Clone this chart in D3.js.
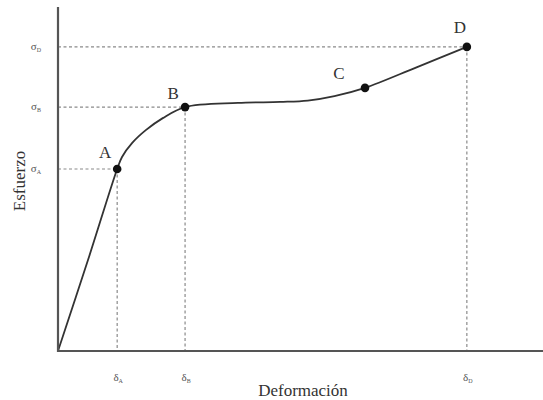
<!DOCTYPE html>
<html>
<head>
<meta charset="utf-8">
<script src="https://cdn.jsdelivr.net/npm/d3@7"></script>
<style>
  body { margin: 0; background: #fff; }
  svg { display: block; font-family: "Liberation Serif", "DejaVu Serif", serif; }
</style>
</head>
<body>
<svg id="chart" width="543" height="400"></svg>
<script>
// curve (arbitrary units, 0-100)
const strain = [0, 6.2, 12.2, 13.2, 15.3, 18.1, 21.6, 26.2, 37.1, 45.8, 51.5, 57.0, 63.3, 73.8, 84.3];
const stress = [0, 26.5, 52.9, 56.4, 60.5, 64.2, 67.7, 70.9, 72.1, 72.4, 72.8, 74.1, 76.5, 82.4, 88.4];

// labelled points
const pointNames = ['A', 'B', 'C', 'D'];
const pointStrain = [12.2, 26.2, 63.3, 84.3];
const pointStress = [52.9, 70.9, 76.5, 88.4];

// which points get dashed guides + axis labels
const guideNames = ['A', 'B', 'D'];
const xTitle = 'Deformación';
const yTitle = 'Esfuerzo';

const svg = d3.select('#chart');
const x = d3.scaleLinear().domain([0, 100]).range([58, 543]);
const y = d3.scaleLinear().domain([0, 100]).range([351, 7]);

const curve = strain.map((d, i) => [d, stress[i]]);
const pts = pointNames.map((n, i) => ({name: n, sx: pointStrain[i], sy: pointStress[i]}));
const guides = pts.filter(p => guideNames.includes(p.name));

// dashed guides
const gGuide = svg.append('g')
    .attr('stroke', '#8a8a8a')
    .attr('stroke-width', 1.2)
    .attr('stroke-dasharray', '3,2.5');
gGuide.selectAll('.h').data(guides).enter().append('line')
    .attr('x1', x(0)).attr('x2', d => x(d.sx))
    .attr('y1', d => y(d.sy)).attr('y2', d => y(d.sy));
gGuide.selectAll('.v').data(guides).enter().append('line')
    .attr('x1', d => x(d.sx)).attr('x2', d => x(d.sx))
    .attr('y1', d => y(d.sy)).attr('y2', y(0));

// stress-strain curve
svg.append('path')
    .datum(curve)
    .attr('fill', 'none')
    .attr('stroke', '#333')
    .attr('stroke-width', 1.8)
    .attr('d', d3.line().x(d => x(d[0])).y(d => y(d[1])).curve(d3.curveCatmullRom.alpha(0.5)));

// axes (plain lines, no ticks)
svg.append('line')
    .attr('x1', x(0)).attr('x2', x(100)).attr('y1', y(0)).attr('y2', y(0))
    .attr('stroke', '#555').attr('stroke-width', 2.2);
svg.append('line')
    .attr('x1', x(0)).attr('x2', x(0)).attr('y1', y(0) + 1).attr('y2', y(100))
    .attr('stroke', '#555').attr('stroke-width', 2.2);

// points
svg.selectAll('.pt').data(pts).enter().append('circle')
    .attr('cx', d => x(d.sx)).attr('cy', d => y(d.sy))
    .attr('r', 4.3).attr('fill', '#111');

// point letters
const letterOffset = {A: [-12, -11], B: [-12, -8], C: [-26, -9], D: [-7, -14]};
svg.selectAll('.lbl').data(pts).enter().append('text')
    .attr('x', d => x(d.sx) + letterOffset[d.name][0])
    .attr('y', d => y(d.sy) + letterOffset[d.name][1])
    .attr('text-anchor', 'middle')
    .attr('font-size', 17)
    .attr('fill', '#333')
    .text(d => d.name);

// sigma labels on y
const sig = svg.selectAll('.sig').data(guides).enter().append('text')
    .attr('x', 36).attr('y', d => y(d.sy) + 3)
    .attr('text-anchor', 'middle')
    .attr('font-size', 11)
    .attr('fill', '#555');
sig.append('tspan').text('σ');
sig.append('tspan').attr('font-size', 6).attr('dy', 2).text(d => d.name);

// delta labels on x
const del = svg.selectAll('.del').data(guides).enter().append('text')
    .attr('x', d => x(d.sx) + 1).attr('y', 381)
    .attr('text-anchor', 'middle')
    .attr('font-size', 11)
    .attr('fill', '#555');
del.append('tspan').text('δ');
del.append('tspan').attr('font-size', 6).attr('dy', 2).text(d => d.name);

// axis titles
svg.append('text')
    .attr('x', 303).attr('y', 396)
    .attr('text-anchor', 'middle')
    .attr('font-size', 17)
    .attr('fill', '#333')
    .text(xTitle);
svg.append('text')
    .attr('transform', 'translate(25,181) rotate(-90)')
    .attr('text-anchor', 'middle')
    .attr('font-size', 17)
    .attr('fill', '#333')
    .text(yTitle);
</script>
</body>
</html>
